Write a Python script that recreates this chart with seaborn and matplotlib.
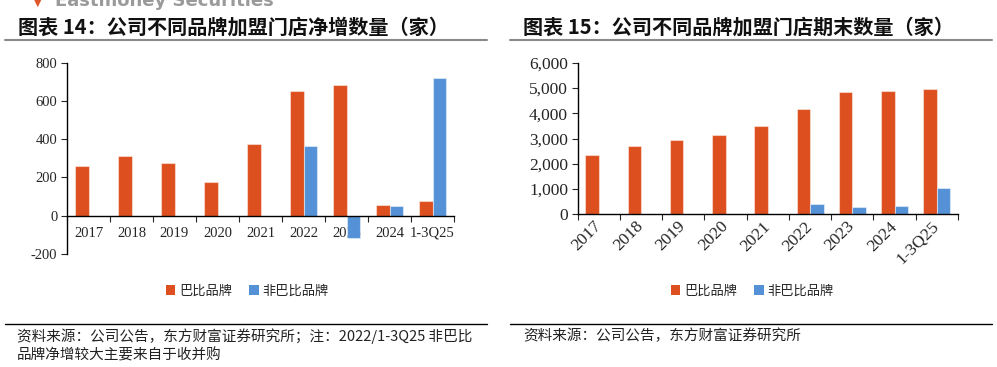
import numpy as np
import pandas as pd
import matplotlib
matplotlib.use("Agg")
import matplotlib.pyplot as plt
import seaborn as sns
from matplotlib.ticker import FixedLocator, FuncFormatter
from matplotlib.lines import Line2D
from matplotlib.patches import Patch

# 数据
periods = ["2017", "2018", "2019", "2020", "2021", "2022", "2023", "2024", "1-3Q25"]
brands = ["巴比品牌", "非巴比品牌"]
net_babi = [260, 313, 277, 176, 374, 654, 686, 56, 78]
net_other = [0, 0, 0, 0, 0, 367, -117, 49, 720]
end_babi = [2365, 2690, 2952, 3126, 3494, 4155, 4840, 4891, 4958]
end_other = [0, 0, 0, 0, 0, 396, 289, 340, 1053]

title_left = "图表 14：公司不同品牌加盟门店净增数量（家）"
title_right = "图表 15：公司不同品牌加盟门店期末数量（家）"
note_left = ["资料来源：公司公告，东方财富证券研究所；注：2022/1-3Q25 非巴比",
             "品牌净增较大主要来自于收并购"]
note_right = "资料来源：公司公告，东方财富证券研究所"

colors = {"巴比品牌": "#DE4F1F", "非巴比品牌": "#5591D6"}


def long_df(a, b):
    return pd.DataFrame({
        "period": periods * 2,
        "brand": [brands[0]] * len(periods) + [brands[1]] * len(periods),
        "value": list(a) + list(b),
    })


sns.set_style("white")
plt.rcParams["font.family"] = ["Noto Sans CJK SC", "DejaVu Sans"]
plt.rcParams["axes.axisbelow"] = True

fig = plt.figure(figsize=(9.97, 3.67), dpi=100)
W, H = 997, 367


def fx(px):
    return px / W


def fy(py):
    return 1 - py / H


def setup_axis(ax, ylim, ticks, fmt, fs):
    ax.set_ylim(*ylim)
    ax.set_xlim(-0.5, len(periods) - 0.5)
    ax.set_yticks(ticks)
    ax.yaxis.set_major_formatter(FuncFormatter(fmt))
    ax.xaxis.set_minor_locator(FixedLocator(np.arange(-0.5, len(periods), 1)))
    for s in ["top", "right"]:
        ax.spines[s].set_visible(False)
    for s in ["left", "bottom"]:
        ax.spines[s].set_color("black")
        ax.spines[s].set_linewidth(1.0)
    ax.tick_params(axis="y", direction="out", length=4, width=0.8, pad=3,
                   labelsize=fs, left=True)
    ax.tick_params(axis="x", which="major", length=0)
    ax.tick_params(axis="x", which="minor", direction="out", length=4, width=0.8,
                   bottom=True)
    for lab in ax.get_yticklabels():
        lab.set_fontfamily("Liberation Serif")
    ax.set_xlabel("")
    ax.set_ylabel("")


# 左图：净增数量
ax1 = fig.add_axes([fx(67), fy(254), fx(454 - 67), (254 - 62.7) / H])
sns.barplot(data=long_df(net_babi, net_other), x="period", y="value", hue="brand",
            order=periods, hue_order=brands, palette=colors, width=0.64,
            errorbar=None, saturation=1, legend=False, ax=ax1,
            edgecolor=(1, 1, 1, 0.45), linewidth=0.8)
setup_axis(ax1, (-200, 800), [-200, 0, 200, 400, 600, 800],
           lambda v, _: f"{int(v)}", 10.5)
ax1.spines["bottom"].set_position(("data", 0))
ax1.tick_params(axis="x", which="major", pad=8, labelsize=10.5)
for lab in ax1.get_xticklabels():
    lab.set_fontfamily("Liberation Serif")

# 右图：期末数量
ax2 = fig.add_axes([fx(577.7), fy(214.3), fx(958 - 577.7), (214.3 - 62.7) / H])
sns.barplot(data=long_df(end_babi, end_other), x="period", y="value", hue="brand",
            order=periods, hue_order=brands, palette=colors, width=0.64,
            errorbar=None, saturation=1, legend=False, ax=ax2,
            edgecolor=(1, 1, 1, 0.45), linewidth=0.8)
setup_axis(ax2, (0, 6000), np.arange(0, 6001, 1000),
           lambda v, _: f"{int(v):,}", 12.5)
ax2.tick_params(axis="x", which="major", pad=7, labelsize=12.5)
for lab in ax2.get_xticklabels():
    lab.set_fontfamily("Liberation Serif")
    lab.set_rotation(45)
    lab.set_ha("right")
    lab.set_va("center")
    lab.set_rotation_mode("anchor")

# 图例
handles = [Patch(facecolor=colors[b], edgecolor="none", label=b) for b in brands]
for cx in [247.5, 752.5]:
    fig.legend(handles=handles, loc="center", bbox_to_anchor=(fx(cx), fy(291)),
               ncol=2, frameon=False, fontsize=9.5, handlelength=0.7,
               handleheight=0.7, handletextpad=0.3, columnspacing=1.3)

# 标题与分隔线
fig.text(fx(18), fy(27), title_left, fontsize=14.5, fontweight="bold",
         color="#111111", va="center", ha="left")
fig.text(fx(523), fy(27), title_right, fontsize=14.5, fontweight="bold",
         color="#111111", va="center", ha="left")
# 页眉（原图中只露出下半部分）
fig.text(fx(55), fy(1), "Eastmoney Securities", fontsize=13, fontweight="bold",
         color="#9a9a9a", va="center", ha="left", family="DejaVu Sans")
fig.text(fx(34), fy(3), "▼", fontsize=7, color="#E0562A", va="center",
         ha="left", family="DejaVu Sans")

for x0, x1 in [(5, 487), (510, 992)]:
    fig.add_artist(Line2D([fx(x0), fx(x1)], [fy(40), fy(40)], color="#8a8a8a",
                          linewidth=1.5))
    fig.add_artist(Line2D([fx(x0), fx(x1)], [fy(324), fy(324)], color="black",
                          linewidth=1.0))

# 资料来源
fig.text(fx(17), fy(336), note_left[0], fontsize=10.5, va="center", ha="left",
         color="#222222")
fig.text(fx(17), fy(355), note_left[1], fontsize=10.5, va="center", ha="left",
         color="#222222")
fig.text(fx(523), fy(336), note_right, fontsize=10.5, va="center", ha="left",
         color="#222222")

fig.savefig("out.png", dpi=100)
